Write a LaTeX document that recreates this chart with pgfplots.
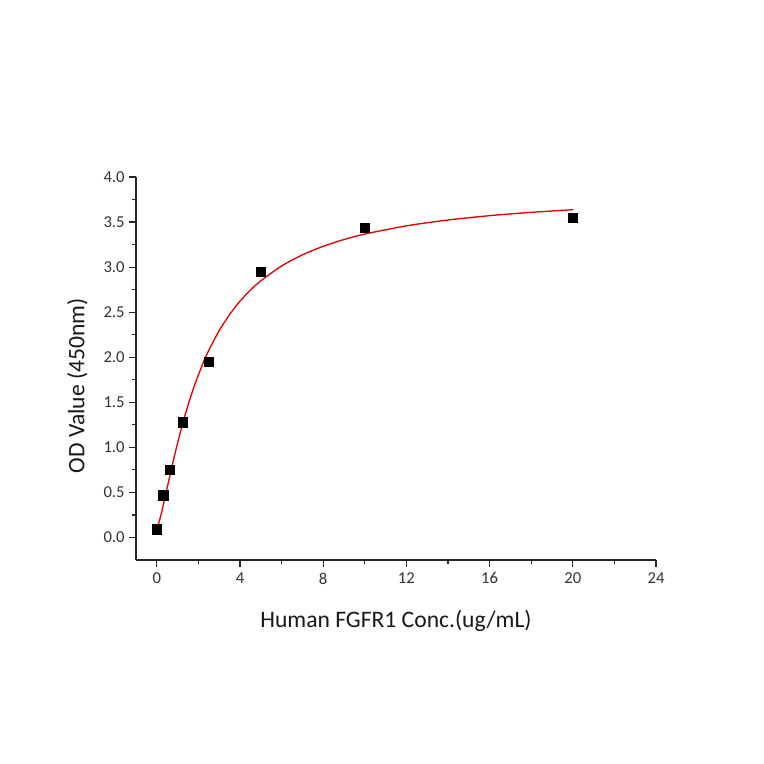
\documentclass[border=0pt]{standalone}
\usepackage{pgfplots}
\pgfplotsset{compat=1.18}
\usepackage{fontspec}
\setmainfont{Carlito}

\begin{document}
\begin{tikzpicture}
    \useasboundingbox[fill=white] (-102pt,-153pt) rectangle (471pt,420pt);
    \begin{axis}[
        at={(0,0)}, anchor=south west,
        scale only axis,
        width=390pt, height=287.25pt,
        xmin=-1, xmax=24,
        ymin=-0.25, ymax=4.0,
        axis x line*=bottom,
        axis y line*=left,
        axis line style={line width=0.9pt, black!85},
        tick align=outside,
        tick style={line width=0.9pt, black!85},
        major tick length=5pt,
        minor tick length=3pt,
        xtick={0,4,8,12,16,20,24},
        ytick={0,0.5,1,1.5,2,2.5,3,3.5,4},
        minor x tick num=1,
        minor y tick num=1,
        /pgf/number format/assume math mode=true,
        yticklabel style={/pgf/number format/.cd, fixed, fixed zerofill, precision=1},
        xticklabel style={yshift=-1pt},
        ticklabel style={font=\fontsize{12.5}{14}\selectfont, text=black!80},
        xlabel={Human FGFR1 Conc.(ug/mL)},
        ylabel={OD Value (450nm)},
        label style={font=\fontsize{17.7}{20}\selectfont, text=black!90},
        xlabel style={yshift=-13pt},
        ylabel style={yshift=5pt, xshift=-13pt},
    ]
    % fitted curve
    \addplot[red!90!black, line width=1pt, smooth, tension=0.4, no marks] coordinates {
        (0,0.10) (0.1,0.163) (0.25,0.298) (0.5,0.553) (0.75,0.809) (1,1.049)
        (1.25,1.269) (1.5,1.467) (1.75,1.646) (2,1.805) (2.25,1.949) (2.5,2.077)
        (3,2.296) (3.5,2.474) (4,2.622) (4.5,2.745) (5,2.848) (6,3.013) (7,3.136)
        (8,3.231) (9,3.306) (10,3.367) (12,3.458) (14,3.523)
        (16,3.571) (18,3.608) (20,3.637)
    };
    % measured points
    \addplot[only marks, mark=square*, mark size=3.5pt, black] coordinates {
        (0,0.09) (0.3125,0.47) (0.625,0.75) (1.25,1.28) (2.5,1.95)
        (5,2.95) (10,3.44) (20,3.55)
    };
    \end{axis}
\end{tikzpicture}
\end{document}
